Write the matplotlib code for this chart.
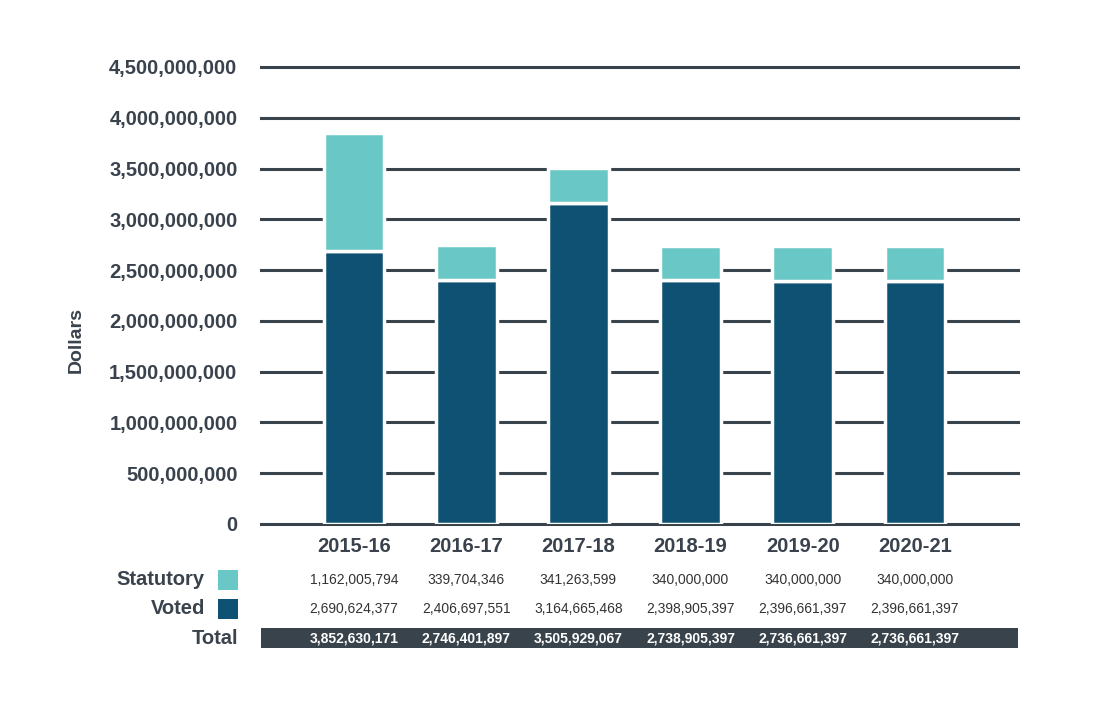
import matplotlib
matplotlib.use("Agg")
import matplotlib.pyplot as plt
from matplotlib.patches import Rectangle

categories = ["2015-16", "2016-17", "2017-18", "2018-19", "2019-20", "2020-21"]
statutory = [1162005794, 339704346, 341263599, 340000000, 340000000, 340000000]
voted = [2690624377, 2406697551, 3164665468, 2398905397, 2396661397, 2396661397]
totals = [3852630171, 2746401897, 3505929067, 2738905397, 2736661397, 2736661397]
yticks = [0, 500000000, 1000000000, 1500000000, 2000000000, 2500000000,
          3000000000, 3500000000, 4000000000, 4500000000]

c_stat = "#69c8c5"
c_vote = "#0f5172"
c_dark = "#38434c"
c_text = "#3a434d"

plt.rcParams['font.family'] = ['Liberation Sans', 'DejaVu Sans']

fig = plt.figure(figsize=(11.06, 7.18), dpi=100)
ax = fig.add_axes([0.236, 0.2702, 0.6844, 0.6365])

x = list(range(len(categories)))
ax.bar(x, voted, width=0.54, color=c_vote, edgecolor="white", linewidth=2.5, zorder=3)
ax.bar(x, statutory, bottom=voted, width=0.54, color=c_stat, edgecolor="white", linewidth=2.5, zorder=3)

ax.set_xlim(-0.83, 5.92)
ax.set_ylim(0, 4500000000)
ax.set_yticks(yticks)
ax.set_yticklabels([f"{v:,}" for v in yticks], fontsize=14.5, fontweight="bold", color=c_text)
ax.tick_params(axis="y", length=0, pad=17)
ax.set_xticks([])
for v in yticks:
    ax.axhline(v, color=c_dark, linewidth=2.2, zorder=1, clip_on=False)
for s in ax.spines.values():
    s.set_visible(False)

ax.set_ylabel("Dollars", fontsize=14, fontweight="bold", color=c_text)
ax.yaxis.set_label_coords(-0.2325, 0.403)

tr = ax.get_xaxis_transform()
for i, c in enumerate(categories):
    ax.text(i, -0.0503, c, transform=tr, ha="center", va="center", fontsize=14.5,
            fontweight="bold", color=c_text, clip_on=False)
    ax.text(i, -0.1225, f"{statutory[i]:,}", transform=tr, ha="center", va="center",
            fontsize=10, color="#333333", clip_on=False)
    ax.text(i, -0.186, f"{voted[i]:,}", transform=tr, ha="center", va="center",
            fontsize=10, color="#333333", clip_on=False)
    ax.text(i, -0.2495, f"{totals[i]:,}", transform=tr, ha="center", va="center",
            fontsize=10, fontweight="bold", color="white", clip_on=False, zorder=6)

ax.add_patch(Rectangle((0, -0.2713), 1, 0.0437, transform=ax.transAxes,
                       facecolor=c_dark, edgecolor="none", clip_on=False, zorder=5))

ax.text(-0.074, -0.1225, "Statutory", transform=ax.transAxes, ha="right", va="center",
        fontsize=14.5, fontweight="bold", color=c_text, clip_on=False)
ax.text(-0.074, -0.186, "Voted", transform=ax.transAxes, ha="right", va="center",
        fontsize=14.5, fontweight="bold", color=c_text, clip_on=False)
ax.text(-0.0304, -0.2495, "Total", transform=ax.transAxes, ha="right", va="center",
        fontsize=14.5, fontweight="bold", color=c_text, clip_on=False)
ax.add_patch(Rectangle((-0.0568, -0.1444), 0.0264, 0.0437, transform=ax.transAxes,
                       facecolor=c_stat, edgecolor="none", clip_on=False))
ax.add_patch(Rectangle((-0.0568, -0.2079), 0.0264, 0.0437, transform=ax.transAxes,
                       facecolor=c_vote, edgecolor="none", clip_on=False))

fig.savefig("out.png", dpi=100)
